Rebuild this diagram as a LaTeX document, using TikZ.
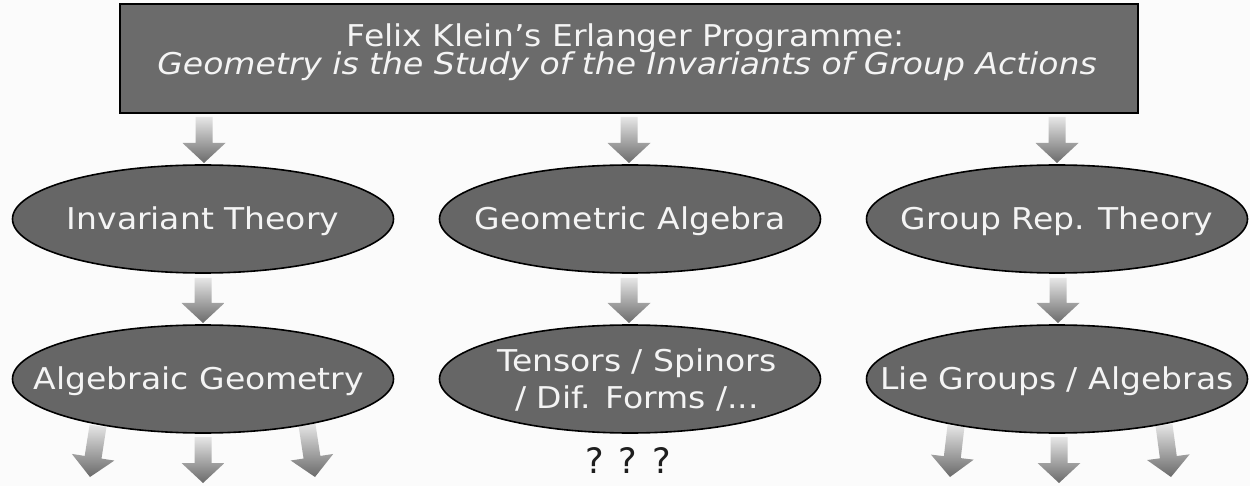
\documentclass[tikz,border=0pt]{standalone}
\usepackage{fontspec}
\setmainfont{DejaVu Sans}[FakeStretch=1.1]
\newfontfamily\qfont{DejaVu Sans}
\usetikzlibrary{shapes.geometric,calc}
\definecolor{bgcol}{HTML}{FBFBFB}
\definecolor{boxfill}{HTML}{6B6B6B}
\definecolor{ellfill}{HTML}{666666}
\definecolor{txt}{HTML}{F4F4F4}
\definecolor{arrtop}{HTML}{E6E6E6}
\definecolor{arrbot}{HTML}{6A6A6A}
\definecolor{qcol}{HTML}{1E1E1E}
\pgfdeclarelayer{back}
\pgfdeclarelayer{arr}
\pgfsetlayers{back,arr,main}
\newcommand\fatarr[2]{%
  \coordinate (fa-h) at ($(#2)!20pt!(#1)$);
  \shade[arrowshade] ($(#1)!8.5pt!90:(#2)$) -- ($(fa-h)!8.5pt!90:(#2)$)
    -- ($(fa-h)!21.5pt!90:(#2)$) -- (#2) -- ($(fa-h)!21.5pt!-90:(#2)$)
    -- ($(fa-h)!8.5pt!-90:(#2)$) -- ($(#1)!8.5pt!-90:(#2)$) -- cycle;}
\begin{document}
\begin{tikzpicture}[x=1pt,y=-1pt,
  topbox/.style={draw=black, line width=1.5pt, fill=boxfill, minimum width=1018pt, minimum height=109pt, inner sep=0pt},
  oval/.style={ellipse, draw=black, line width=1.6pt, fill=ellfill, minimum width=381pt, minimum height=108pt, inner sep=0pt},
  ovaltext/.style={text=txt, font=\fontsize{30}{37}\selectfont, align=center, inner sep=0pt, text height=21.5pt, text depth=0pt},
  boxtext/.style={text=txt, font=\fontsize{30}{28}\selectfont, inner sep=0pt, anchor=base},
  arrowshade/.style={top color=arrtop, bottom color=arrbot, draw=none}
]
\begin{pgfonlayer}{back}
\fill[bgcol] (0,0) rectangle (1250,486);
\end{pgfonlayer}
\useasboundingbox (0,0) rectangle (1250,486);

% top box
\node[topbox] (top) at (629,58.5) {};
\node[boxtext] (t1) at (626,47) {Felix Klein’s Erlanger Programme:};
\node[boxtext] (t2) at (627,75) {\itshape Geometry is the Study of the Invariants of Group Actions};

% ellipses
\node[oval, label={[ovaltext]center:Invariant Theory}] (inv) at (203,219) {};
\node[oval, label={[ovaltext]center:Geometric Algebra}] (geo) at (630,219) {};
\node[oval, label={[ovaltext]center:Group Rep. Theory}] (grp) at (1057,219) {};
\node[oval, label={[ovaltext, xshift=-4pt]center:Algebraic Geometry}] (alg) at (203,379) {};
\node[oval, label={[ovaltext, text height=58.5pt, xshift=7pt]center:{Tensors / Spinors\\/ Dif. Forms /...}}] (ten) at (630,379) {};
\node[oval, label={[ovaltext]center:Lie Groups / Algebras}] (lie) at (1057,379) {};

\node[text=qcol, font=\qfont\fontsize{35}{35}\selectfont, inner sep=0pt, anchor=base] (q) at (628,473) {? ? ?};

% arrow end points
\coordinate (a1s) at (204,117);  \coordinate (a1t) at (204,163);
\coordinate (a2s) at (629,117);  \coordinate (a2t) at (629,163);
\coordinate (a3s) at (1057,117); \coordinate (a3t) at (1057,163);
\coordinate (b1s) at (203,278);  \coordinate (b1t) at (203,323);
\coordinate (b2s) at (629,278);  \coordinate (b2t) at (629,323);
\coordinate (b3s) at (1058,278); \coordinate (b3t) at (1058,323);
\coordinate (c1s) at (98,426);   \coordinate (c1t) at (90,477);
\coordinate (c2s) at (203,437);  \coordinate (c2t) at (203,483);
\coordinate (c3s) at (307,425);  \coordinate (c3t) at (315,477);
\coordinate (d1s) at (956,426);  \coordinate (d1t) at (950,477);
\coordinate (d2s) at (1059,437); \coordinate (d2t) at (1059,483);
\coordinate (d3s) at (1164,425); \coordinate (d3t) at (1171,477);

\begin{pgfonlayer}{arr}
\fatarr{a1s}{a1t}
\fatarr{a2s}{a2t}
\fatarr{a3s}{a3t}
\fatarr{b1s}{b1t}
\fatarr{b2s}{b2t}
\fatarr{b3s}{b3t}
\fatarr{c1s}{c1t}
\fatarr{c2s}{c2t}
\fatarr{c3s}{c3t}
\fatarr{d1s}{d1t}
\fatarr{d2s}{d2t}
\fatarr{d3s}{d3t}
\end{pgfonlayer}
\end{tikzpicture}
\end{document}
